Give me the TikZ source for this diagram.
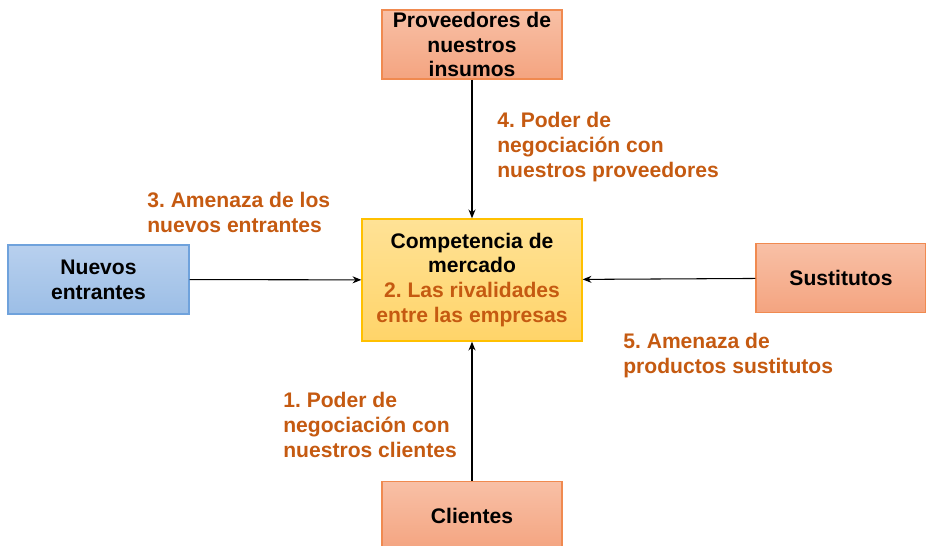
\documentclass[tikz,border=0pt]{standalone}
\usepackage{fontspec}
\setmainfont{Liberation Sans}
\frenchspacing
\usetikzlibrary{arrows.meta}

\definecolor{naranjaTop}{RGB}{248,192,166}
\definecolor{naranjaBot}{RGB}{244,164,128}
\definecolor{naranjaBorde}{RGB}{240,138,80}
\definecolor{azulTop}{RGB}{184,208,238}
\definecolor{azulBot}{RGB}{156,190,230}
\definecolor{azulBorde}{RGB}{111,162,220}
\definecolor{amarilloTop}{RGB}{255,226,150}
\definecolor{amarilloBot}{RGB}{255,212,105}
\definecolor{amarilloBorde}{RGB}{255,192,0}
\definecolor{texto}{RGB}{197,90,17}

\tikzset{
  caja/.style={draw, line width=0.8pt, align=center, font=\bfseries\fontsize{12}{14.2}\selectfont, inner sep=0pt},
  naranja/.style={caja, draw=naranjaBorde, top color=naranjaTop, bottom color=naranjaBot},
  azul/.style={caja, draw=azulBorde, top color=azulTop, bottom color=azulBot},
  centro/.style={caja, draw=amarilloBorde, top color=amarilloTop, bottom color=amarilloBot},
  etiqueta/.style={anchor=north west, align=left, inner sep=0pt, text=texto, font=\bfseries\fontsize{12}{14.2}\selectfont},
  flecha/.style={-{Stealth[length=5pt,width=4pt]}, line width=0.6pt}
}

\begin{document}
\begin{tikzpicture}[x=0.02cm, y=-0.02cm]
	
	\useasboundingbox (0,0) rectangle (926,546);
	
	% Cajas
	\node[naranja, minimum width=3.6cm, minimum height=1.38cm] (prov) at (472,44.5) {Proveedores de\\nuestros\\insumos};
	\node[centro, minimum width=4.4cm, minimum height=2.44cm] (comp) at (472,280) {Competencia de\\mercado\\{\color{texto}2. Las rivalidades}\\{\color{texto}entre las empresas}};
	\node[azul, minimum width=3.62cm, minimum height=1.38cm] (nuevos) at (98.5,279.5) {Nuevos\\entrantes};
	\node[naranja, minimum width=3.4cm, minimum height=1.38cm] (sust) at (841,278) {Sustitutos};
	\node[naranja, minimum width=3.6cm, minimum height=1.38cm] (clientes) at (472,516) {Clientes};
	
	% Flechas
	\draw[flecha] (prov) -- (comp);
	\draw[flecha] (nuevos) -- (comp);
	\draw[flecha] (sust) -- (comp);
	\draw[flecha] (clientes) -- (comp);
	
	% Etiquetas
	\node[etiqueta] (lbl3) at (147,192) {3. Amenaza de los\\nuevos entrantes};
	\node[etiqueta] (lbl4) at (497,112) {4. Poder de\\negociación con\\nuestros proveedores};
	\node[etiqueta] (lbl5) at (623,333) {5. Amenaza de\\productos sustitutos};
	\node[etiqueta] (lbl1) at (283,392) {1. Poder de\\negociación con\\nuestros clientes};
	
\end{tikzpicture}
\end{document}
